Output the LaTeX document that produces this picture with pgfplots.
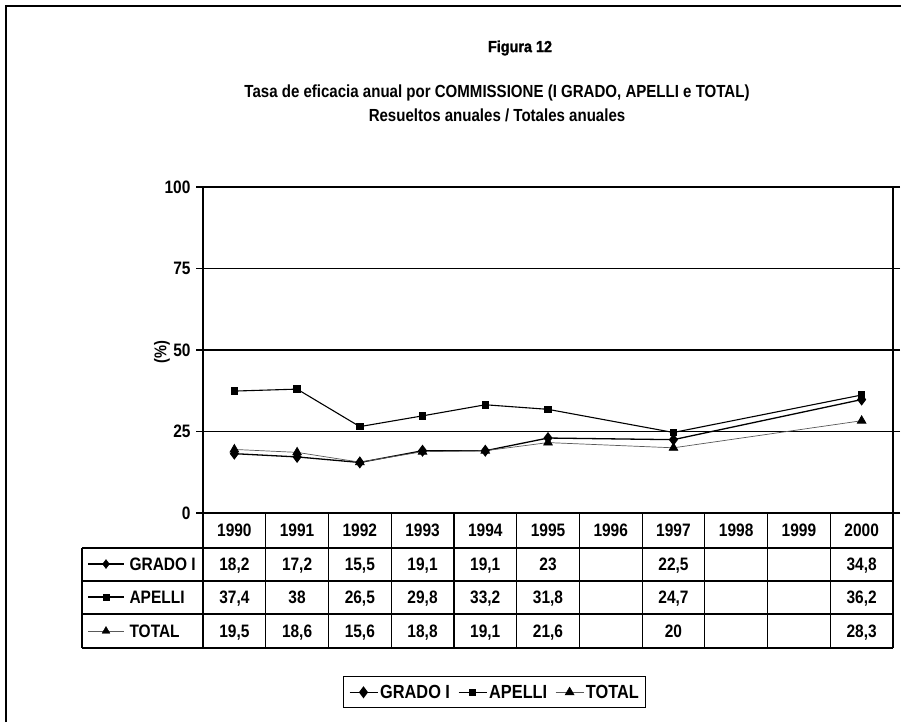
\documentclass[border=0pt]{standalone}
\usepackage{pgfplots}
\pgfplotsset{compat=1.18}
\usepackage{fontspec}
\setmainfont{Liberation Sans}
\newfontfamily\nar[FakeStretch=0.86]{Liberation Sans}
\newfontfamily\hvy[FakeStretch=0.9,FakeBold=1.5]{Liberation Sans}
\newcommand{\fs}[1]{\nar\bfseries\fontsize{#1}{#1}\selectfont}
\begin{document}
\begin{tikzpicture}
\begin{scope}[x=1pt,y=1pt]
\useasboundingbox (0,0) rectangle (901,-722);
\fill[white] (0,0) rectangle (901,-722);
\draw[line width=1.5pt] (6,-722) -- (6,-6) -- (901,-6);
\node[font=\hvy\bfseries\fontsize{16}{16}\selectfont] at (520,-48) {Figura 12};
\node[font=\fs{17.5}] at (497,-93) {Tasa de eficacia anual por COMMISSIONE (I GRADO, APELLI e TOTAL)};
\node[font=\fs{17.5}] at (497,-115) {Resueltos anuales / Totales anuales};
\node[font=\fs{17}, rotate=90] at (162,-352) {(\%)};
\end{scope}
\begin{axis}[at={(203pt,-513pt)}, anchor=south west, scale only axis,
  width=690pt, height=326pt,
  xmin=-0.5, xmax=10.5, ymin=0, ymax=100,
  ytick={0,25,50,75,100}, xtick=\empty,
  ymajorgrids, grid style={black, line width=1.6pt},
  axis line style={line width=1.2pt},
  tick style={black, line width=1.2pt}, tick align=outside, major tick length=7pt,
  yticklabel style={font=\fs{18}, xshift=-2pt},
  /pgf/number format/assume math mode=true,
  clip=false,
  legend columns=3,
  legend style={at={(0.423,-0.550)}, anchor=center, draw=black, line width=1pt,
    font=\fs{19}, inner xsep=5pt, inner ysep=6pt,
    /tikz/every even column/.append style={column sep=6pt}},
  legend image code/.code={\draw[mark repeat=2,mark phase=2] plot coordinates {(0pt,0pt)(14pt,0pt)(28pt,0pt)};},
]
\addplot[black, line width=1.3pt, mark=diamond*, mark size=5pt, mark options={solid}] coordinates {
(0,18.2) (1,17.2) (2,15.5) (3,19.1) (4,19.1) (5,23) (7,22.5) (10,34.8)};
\addlegendentry{GRADO I}
\addplot[black, line width=1.1pt, mark=square*, mark size=3.2pt, mark options={solid}] coordinates {
(0,37.4) (1,38) (2,26.5) (3,29.8) (4,33.2) (5,31.8) (7,24.7) (10,36.2)};
\addlegendentry{APELLI}
\addplot[black!65, line width=0.7pt, mark=triangle*, mark size=5pt, mark options={solid,fill=black,draw=black}] coordinates {
(0,19.5) (1,18.6) (2,15.6) (3,18.8) (4,19.1) (5,21.6) (7,20) (10,28.3)};
\addlegendentry{TOTAL}
\end{axis}
\begin{scope}[x=1pt,y=1pt]
% data table grid
\foreach \k in {0,...,11} {\draw[line width=1.2pt] ({203+62.727*\k},-513) -- ({203+62.727*\k},-648);}
\draw[line width=1.2pt] (82,-548) -- (82,-648);
\foreach \yy in {548,581,614,648} {\draw[line width=1.2pt] (82,-\yy) -- (893,-\yy);}
\foreach \i/\t in {0/1990,1/1991,2/1992,3/1993,4/1994,5/1995,6/1996,7/1997,8/1998,9/1999,10/2000}
  {\node[font=\fs{18}, anchor=base] at ({203+62.727*(\i+0.5)},-536.5) {\t};}
\foreach \i/\t in {0/{18,2},1/{17,2},2/{15,5},3/{19,1},4/{19,1},5/{23},7/{22,5},10/{34,8}}
  {\node[font=\fs{18}, anchor=base] at ({203+62.727*(\i+0.5)},-570.5) {\t};}
\foreach \i/\t in {0/{37,4},1/{38},2/{26,5},3/{29,8},4/{33,2},5/{31,8},7/{24,7},10/{36,2}}
  {\node[font=\fs{18}, anchor=base] at ({203+62.727*(\i+0.5)},-603.5) {\t};}
\foreach \i/\t in {0/{19,5},1/{18,6},2/{15,6},3/{18,8},4/{19,1},5/{21,6},7/{20},10/{28,3}}
  {\node[font=\fs{18}, anchor=base] at ({203+62.727*(\i+0.5)},-637.5) {\t};}
% row keys
\draw[black, line width=1.3pt] (88,-564) -- (124,-564);
\begin{scope}[shift={(106,-564)}] \pgfsetfillcolor{black}\pgfsetplotmarksize{4.5pt}\pgfuseplotmark{diamond*} \end{scope}
\draw[black, line width=1.1pt] (88,-597) -- (124,-597);
\begin{scope}[shift={(106,-597)}] \pgfsetfillcolor{black}\pgfsetplotmarksize{3pt}\pgfuseplotmark{square*} \end{scope}
\draw[black!65, line width=0.7pt] (88,-631) -- (124,-631);
\begin{scope}[shift={(106,-631)}] \pgfsetfillcolor{black}\pgfsetplotmarksize{4.5pt}\pgfuseplotmark{triangle*} \end{scope}
\node[anchor=base west, font=\fs{18}] at (126,-570.5) {GRADO I};
\node[anchor=base west, font=\fs{18}] at (126,-603.5) {APELLI};
\node[anchor=base west, font=\fs{18}] at (126,-637.5) {TOTAL};
\end{scope}
\end{tikzpicture}
\end{document}
